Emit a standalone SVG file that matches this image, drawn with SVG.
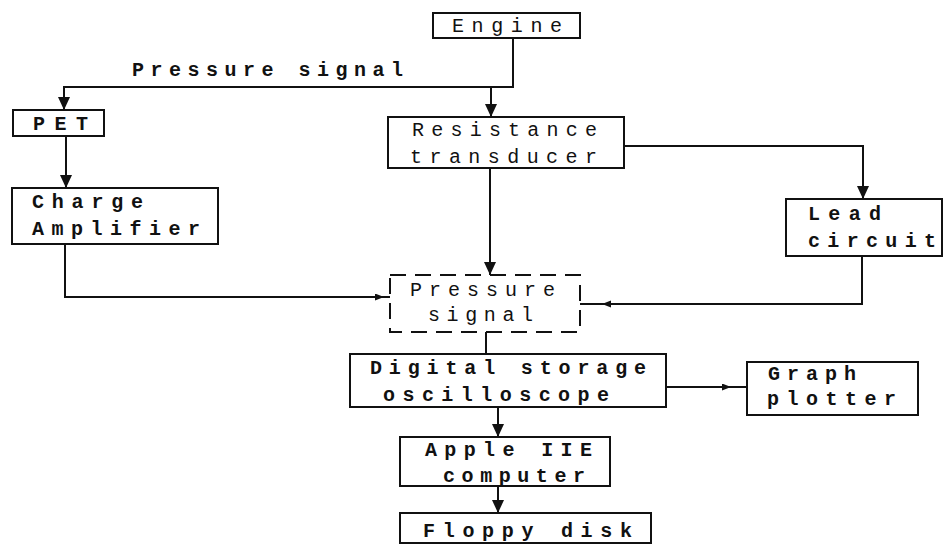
<svg xmlns="http://www.w3.org/2000/svg" width="943" height="544" viewBox="0 0 943 544">
<style>
.box{fill:#fff;stroke:#111;stroke-width:2}
.dash{fill:#fff;stroke:#111;stroke-width:2;stroke-dasharray:16 9}
.t{font-family:"Liberation Mono","Courier New",monospace;font-size:20px;fill:#111;font-weight:bold}
.n{font-weight:normal}
.c{fill:none;stroke:#111;stroke-width:2}
</style>
<defs>
<marker id="ah" markerUnits="userSpaceOnUse" markerWidth="13" markerHeight="14" refX="13" refY="6" orient="auto">
<path d="M0,0 L13,6 L0,12 z" fill="#111"/>
</marker>
<marker id="sh" markerUnits="userSpaceOnUse" markerWidth="10" markerHeight="8" refX="9" refY="3.5" orient="auto">
<path d="M0,0 L9,3.5 L0,7 z" fill="#111"/>
</marker>
</defs>
<rect width="943" height="544" fill="#fff"/>
<g id="connectors">
<path class="c" d="M513 38 V87 H64 V110" marker-end="url(#ah)"/>
<path class="c" d="M491 87 V117" marker-end="url(#ah)"/>
<path class="c" d="M66 136 V188" marker-end="url(#ah)"/>
<path class="c" d="M65 245 V297 H384" marker-end="url(#sh)"/>
<path class="c" d="M383 297 H390"/>
<path class="c" d="M490 168 V275" marker-end="url(#ah)"/>
<path class="c" d="M624 146 H863 V199" marker-end="url(#ah)"/>
<path class="c" d="M862 256 V304 H602" marker-end="url(#sh)"/>
<path class="c" d="M603 304 H580"/>
<path class="c" d="M486 332 V354"/>
<path class="c" d="M666 387 H731" marker-end="url(#sh)"/>
<path class="c" d="M730 387 H747"/>
<path class="c" d="M498 407 V437" marker-end="url(#ah)"/>
<path class="c" d="M498 486 V513" marker-end="url(#ah)"/>
</g>
<g id="label-pressure-signal">
<text class="t" x="132" y="76" textLength="271" lengthAdjust="spacing">Pressure signal</text>
</g>
<g id="engine">
<rect class="box" x="433" y="13" width="147" height="25"/>
<text class="t n" x="452" y="32" textLength="110" lengthAdjust="spacing">Engine</text>
</g>
<g id="pet">
<rect class="box" x="13" y="110" width="91" height="26"/>
<text class="t" x="33" y="130" textLength="55" lengthAdjust="spacing">PET</text>
</g>
<g id="resistance-transducer">
<rect class="box" x="388" y="117" width="236" height="51"/>
<text class="t n" x="412" y="136" textLength="185" lengthAdjust="spacing">Resistance</text>
<text class="t n" x="410" y="163" textLength="187" lengthAdjust="spacing">transducer</text>
</g>
<g id="charge-amplifier">
<rect class="box" x="12" y="188" width="206" height="56"/>
<text class="t" x="32" y="208" textLength="111" lengthAdjust="spacing">Charge</text>
<text class="t" x="32" y="235" textLength="168" lengthAdjust="spacing">Amplifier</text>
</g>
<g id="lead-circuit">
<rect class="box" x="786" y="199" width="156" height="57"/>
<text class="t" x="808" y="220" textLength="73" lengthAdjust="spacing">Lead</text>
<text class="t" x="808" y="247" textLength="128" lengthAdjust="spacing">circuit</text>
</g>
<g id="pressure-signal">
<rect class="dash" x="390" y="275" width="190" height="57"/>
<text class="t n" x="410" y="296" textLength="145" lengthAdjust="spacing">Pressure</text>
<text class="t n" x="428" y="321" textLength="105" lengthAdjust="spacing">signal</text>
</g>
<g id="digital-storage-oscilloscope">
<rect class="box" x="350" y="354" width="316" height="53"/>
<text class="t" x="370" y="374" textLength="276" lengthAdjust="spacing">Digital storage</text>
<text class="t" x="383" y="401" textLength="226" lengthAdjust="spacing">oscilloscope</text>
</g>
<g id="graph-plotter">
<rect class="box" x="747" y="362" width="171" height="53"/>
<text class="t" x="768" y="380" textLength="88" lengthAdjust="spacing">Graph</text>
<text class="t" x="767" y="405" textLength="129" lengthAdjust="spacing">plotter</text>
</g>
<g id="apple-iie-computer">
<rect class="box" x="400" y="437" width="210" height="49"/>
<text class="t" x="425" y="456" textLength="167" lengthAdjust="spacing">Apple IIE</text>
<text class="t" x="443" y="482" textLength="142" lengthAdjust="spacing">computer</text>
</g>
<g id="floppy-disk">
<rect class="box" x="400" y="513" width="251" height="30"/>
<text class="t" x="423" y="537" textLength="209" lengthAdjust="spacing">Floppy disk</text>
</g>
</svg>
